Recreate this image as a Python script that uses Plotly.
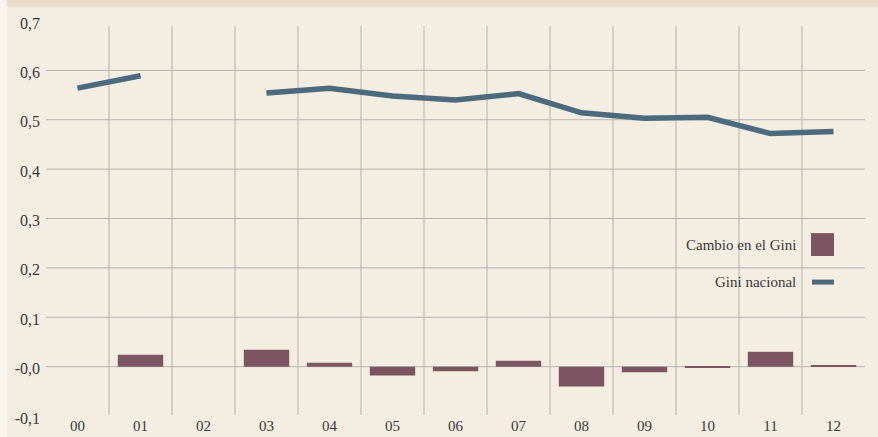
import plotly.graph_objects as go

years = ["00", "01", "02", "03", "04", "05", "06", "07", "08", "09", "10", "11", "12"]
gini_nacional = [0.564, 0.589, None, 0.554, 0.564, 0.548, 0.540, 0.553, 0.514, 0.503, 0.505, 0.472, 0.476]
cambio_gini = [None, 0.024, None, 0.034, 0.008, -0.018, -0.0095, 0.012, -0.040, -0.0115, -0.002, 0.030, 0.002]
y_tickvals = [-0.1, 0.0, 0.1, 0.2, 0.3, 0.4, 0.5, 0.6, 0.7]
y_ticktext = ["-0,1", "-0,0", "0,1", "0,2", "0,3", "0,4", "0,5", "0,6", "0,7"]
grid_levels = [0.0, 0.1, 0.2, 0.3, 0.4, 0.5, 0.6]
legend_names = ["Cambio en el Gini", "Gini nacional"]

BG = "#f3ede2"
BAR = "#7b5562"
LINE = "#4b6b7c"
GRID = "#b5b3b0"
TXT = "#3a3a3a"
FONT = "'Liberation Serif', 'Times New Roman', 'DejaVu Serif', serif"

fig = go.Figure()
fig.add_trace(go.Bar(x=years, y=cambio_gini, marker=dict(color=BAR, line=dict(width=0)),
                     width=0.72, name=legend_names[0], showlegend=False, hoverinfo="skip"))
fig.add_trace(go.Scatter(x=years, y=gini_nacional, mode="lines", connectgaps=False,
                         line=dict(color=LINE, width=5.5), name=legend_names[1], showlegend=False,
                         hoverinfo="skip"))

shapes = []
for v in grid_levels:
    shapes.append(dict(type="line", xref="paper", yref="y", x0=0, x1=1, y0=v, y1=v,
                       line=dict(color=GRID, width=1), layer="below"))
for i in range(len(years) - 1):
    shapes.append(dict(type="line", xref="x", yref="y", x0=i + 0.5, x1=i + 0.5, y0=-0.098, y1=0.69,
                       line=dict(color=GRID, width=1), layer="below"))
shapes.append(dict(type="rect", xref="paper", yref="paper", x0=-0.1, x1=1.1, y0=1.0354, y1=1.1,
                   fillcolor="#e8dcc6", line=dict(width=0), layer="below"))
shapes.append(dict(type="rect", xref="paper", yref="paper", x0=-0.1, x1=-39/819, y0=-0.1, y1=1.1,
                   fillcolor="#f8f5ef", line=dict(width=0), layer="below"))
shapes.append(dict(type="rect", xref="paper", yref="paper", x0=765/819, x1=788/819, y0=0.405, y1=0.463,
                   fillcolor=BAR, line=dict(width=0)))
shapes.append(dict(type="line", xref="paper", yref="paper", x0=766/819, x1=788/819, y0=0.339, y1=0.339,
                   line=dict(color=LINE, width=5)))

annotations = [
    dict(text=legend_names[0], xref="paper", yref="paper", x=(798 - 46) / 819, y=0.433,
         xanchor="right", yanchor="middle", showarrow=False, font=dict(family=FONT, size=15, color=TXT)),
    dict(text=legend_names[1], xref="paper", yref="paper", x=(798 - 46) / 819, y=0.339,
         xanchor="right", yanchor="middle", showarrow=False, font=dict(family=FONT, size=15, color=TXT)),
]

fig.update_layout(
    width=878, height=437,
    margin=dict(l=46, r=13, t=21, b=21, autoexpand=False),
    paper_bgcolor=BG, plot_bgcolor=BG,
    font=dict(family=FONT, size=15, color=TXT),
    bargap=0.28,
    shapes=shapes,
    annotations=annotations,
    showlegend=False,
    hovermode=False,
    xaxis=dict(type="category", range=[-0.5, 12.5], showgrid=False, zeroline=False, showline=False,
               automargin=False, ticks="", ticklabelstandoff=-1,
               tickfont=dict(family=FONT, size=15, color=TXT)),
    yaxis=dict(range=[-0.1, 0.7], tickvals=y_tickvals, ticktext=y_ticktext, showgrid=False,
               automargin=False, zeroline=False, showline=False, ticks="", ticklabelstandoff=5,
               ticklabelshift=2, tickfont=dict(family=FONT, size=16, color=TXT)),
)

fig.write_html("out.html", config={"displayModeBar": False},
               post_script="document.body.style.margin='0px';document.body.style.overflow='hidden';")
